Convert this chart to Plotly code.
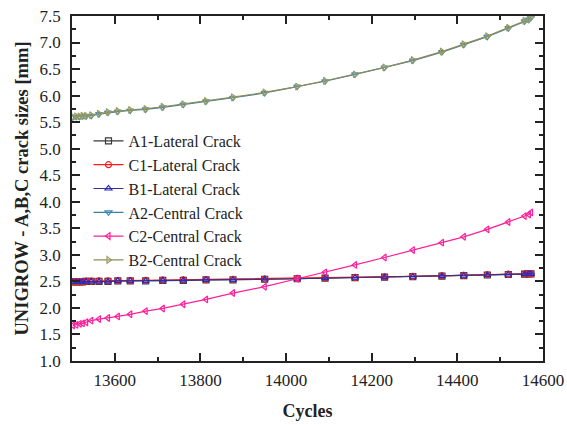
import plotly.graph_objects as go

# Fatigue cycles at each UNIGROW output step
cycles = [13502, 13510, 13518, 13525, 13533, 13545, 13563, 13584, 13607, 13636,
          13672, 13712, 13760, 13813, 13876, 13950, 14026, 14091, 14161, 14230,
          14296, 14364, 14415, 14470, 14519, 14557, 14567, 14572]

# Lateral crack sizes [mm]
a1_lateral = [2.49, 2.49, 2.49, 2.49, 2.50, 2.50, 2.50, 2.50, 2.51, 2.51,
              2.51, 2.52, 2.52, 2.53, 2.53, 2.54, 2.55, 2.56, 2.57, 2.58,
              2.59, 2.60, 2.61, 2.62, 2.63, 2.635, 2.64, 2.64]
c1_lateral = [2.495, 2.495, 2.495, 2.50, 2.505, 2.505, 2.51, 2.51, 2.515, 2.515,
              2.52, 2.525, 2.53, 2.535, 2.54, 2.545, 2.555, 2.565, 2.575, 2.585,
              2.595, 2.605, 2.615, 2.625, 2.635, 2.64, 2.645, 2.645]
b1_lateral = [2.49, 2.49, 2.49, 2.49, 2.50, 2.50, 2.50, 2.50, 2.51, 2.51,
              2.51, 2.52, 2.52, 2.53, 2.53, 2.54, 2.55, 2.56, 2.57, 2.58,
              2.59, 2.60, 2.61, 2.62, 2.63, 2.635, 2.64, 2.64]

# Central crack sizes [mm]
a2_central = [5.59, 5.60, 5.60, 5.61, 5.61, 5.62, 5.65, 5.68, 5.70, 5.72,
              5.74, 5.78, 5.83, 5.89, 5.96, 6.05, 6.17, 6.27, 6.40, 6.53,
              6.66, 6.82, 6.96, 7.11, 7.27, 7.40, 7.43, 7.47]
c2_central = [1.67, 1.68, 1.70, 1.71, 1.73, 1.76, 1.79, 1.81, 1.84, 1.88,
              1.94, 1.99, 2.07, 2.16, 2.28, 2.40, 2.55, 2.67, 2.81, 2.95,
              3.09, 3.23, 3.34, 3.48, 3.62, 3.73, 3.76, 3.80]
b2_central = [5.60, 5.61, 5.61, 5.62, 5.62, 5.63, 5.66, 5.69, 5.71, 5.73,
              5.75, 5.79, 5.84, 5.90, 5.97, 6.06, 6.17, 6.28, 6.40, 6.53,
              6.67, 6.83, 6.97, 7.12, 7.28, 7.41, 7.44, 7.48]

x_ticks = [13600, 13800, 14000, 14200, 14400, 14600]
y_ticks = [1.0, 1.5, 2.0, 2.5, 3.0, 3.5, 4.0, 4.5, 5.0, 5.5, 6.0, 6.5, 7.0, 7.5]

series = [
    ("A1-Lateral Crack", a1_lateral, "#3a3a3a", "#3a3a3a", "square-open"),
    ("C1-Lateral Crack", c1_lateral, "#ff1a1a", "#ff1a1a", "circle-open"),
    ("B1-Lateral Crack", b1_lateral, "#34348f", "#2a2ac0", "triangle-up-open"),
    ("A2-Central Crack", a2_central, "#3f7f9a", "#3a8ac0", "triangle-down-open"),
    ("C2-Central Crack", c2_central, "#ff1f9a", "#ff1f9a", "triangle-left-open"),
    ("B2-Central Crack", b2_central, "#8c8c58", "#9c9c60", "triangle-right-open"),
]

fig = go.Figure()
for name, vals, line_col, mk_col, sym in series:
    fig.add_trace(go.Scatter(
        x=cycles, y=vals, name=name, mode="lines+markers",
        line=dict(color=line_col, width=1.2),
        marker=dict(symbol=sym, size=6, color=mk_col,
                    line=dict(color=mk_col, width=1.2)),
    ))

font_family = "Liberation Serif"
axis_common = dict(
    showline=True, linecolor="#222222", linewidth=1.5, mirror="ticks",
    ticks="inside", tickcolor="#222222", tickwidth=1.5, ticklen=8,
    showgrid=False, zeroline=False, automargin=False,
    tickfont=dict(family=font_family, size=17, color="#222222"),
)

fig.update_xaxes(
    range=[13500, 14600], tickvals=x_ticks, ticktext=[str(v) for v in x_ticks],
    ticklabelstandoff=3,
    minor=dict(ticks="inside", ticklen=4, dtick=100, tick0=13500,
               tickcolor="#222222", tickwidth=1.5),
    title=dict(text="<b>Cycles</b>", standoff=15,
               font=dict(family=font_family, size=18, color="#222222")),
    **axis_common,
)
fig.update_yaxes(
    range=[1.0, 7.5], tickvals=y_ticks, ticktext=[f"{v:.1f}" for v in y_ticks],
    ticklabelstandoff=6,
    minor=dict(ticks="inside", ticklen=4, dtick=0.25, tick0=1.0,
               tickcolor="#222222", tickwidth=1.5),
    title=dict(text="<b>UNIGROW - A,B,C crack sizes [mm]</b>", standoff=6,
               font=dict(family=font_family, size=18.5, color="#222222")),
    **axis_common,
)

fig.update_layout(
    width=567, height=425,
    margin=dict(l=72, r=24, t=16, b=64),
    plot_bgcolor="white", paper_bgcolor="white",
    showlegend=True,
    legend=dict(x=0.035, y=0.687, xanchor="left", yanchor="top",
                bgcolor="rgba(0,0,0,0)", borderwidth=0,
                font=dict(family=font_family, size=16, color="#222222"),
                tracegroupgap=0, itemwidth=30),
)

fig.write_html("out.html")
